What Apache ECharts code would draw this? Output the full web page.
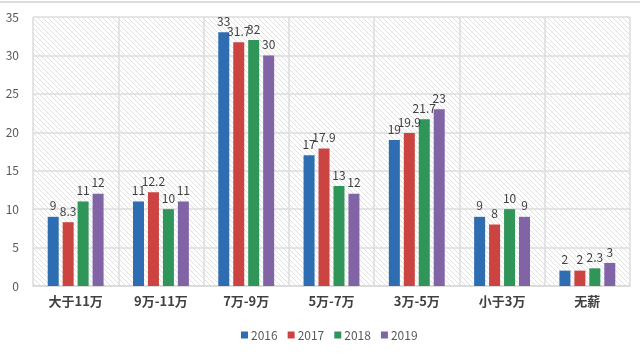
<!DOCTYPE html>
<html><head><meta charset="utf-8">
<script src="https://cdn.jsdelivr.net/npm/echarts@6/dist/echarts.min.js"></script>
<style>html,body{margin:0;padding:0;background:#fff}#c{width:640px;height:358px}</style>
</head><body><div id="c"></div>
<script>
const categories = ['大于11万','9万-11万','7万-9万','5万-7万','3万-5万','小于3万','无薪'];
const seriesNames = ['2016','2017','2018','2019'];
const v2016 = [9, 11, 33, 17, 19, 9, 2];
const v2017 = [8.3, 12.2, 31.7, 17.9, 19.9, 8, 2];
const v2018 = [11, 10, 32, 13, 21.7, 10, 2.3];
const v2019 = [12, 11, 30, 12, 23, 9, 3];
const yTicks = [0,5,10,15,20,25,30,35];
const colors = ['#2e6db2','#cc4441','#2f9558','#8064a6'];

const cv = document.createElement('canvas');
cv.width = 5; cv.height = 5;
const g = cv.getContext('2d');
g.fillStyle = '#ffffff'; g.fillRect(0,0,5,5);
g.strokeStyle = '#e0e0e0'; g.lineWidth = 1;
g.beginPath();
g.moveTo(-1,-1); g.lineTo(6,6);
g.moveTo(-1,4); g.lineTo(1,6);
g.moveTo(4,-1); g.lineTo(6,1);
g.stroke();

const chart = echarts.init(document.getElementById('c'), null, {renderer:'canvas'});
const data = [v2016, v2017, v2018, v2019];
chart.setOption({
  animation:false,
  textStyle:{fontFamily:'"Noto Sans CJK SC","Noto Sans",sans-serif'},
  graphic:[{type:'line',shape:{x1:0,y1:2,x2:640,y2:2},style:{stroke:'#dcdcdc',lineWidth:2},silent:true}],
  grid:{left:33,right:10,top:17,bottom:72,show:true,borderWidth:0,backgroundColor:{image:cv,repeat:'repeat'}},
  legend:{bottom:12,left:236,itemWidth:7,itemHeight:7,itemGap:10,icon:'rect',
    textStyle:{fontSize:12,color:'#595959',padding:[0,0,0,-2]},data:seriesNames},
  xAxis:{type:'category',data:categories,
    axisLine:{lineStyle:{color:'#d9d9d9',width:1.5}},axisTick:{show:false},
    splitLine:{show:true,lineStyle:{color:'#dcdcdc',width:1.5}},
    axisLabel:{fontSize:13,fontWeight:'bold',color:'#404040',margin:9}},
  yAxis:{type:'value',min:0,max:35,interval:5,
    axisLine:{show:false},axisTick:{show:false},
    splitLine:{lineStyle:{color:'#dcdcdc',width:1.5}},
    axisLabel:{fontSize:12,color:'#595959',margin:14,
      formatter:(v)=>yTicks.includes(v)?String(v):''}},
  series:data.map((d,i)=>({
    name:seriesNames[i],type:'bar',data:d,barWidth:11,barGap:'36%',
    itemStyle:{color:colors[i]},
    label:{show:true,position:'top',distance:5,fontSize:12,color:'#404040'}
  }))
});
</script></body></html>
